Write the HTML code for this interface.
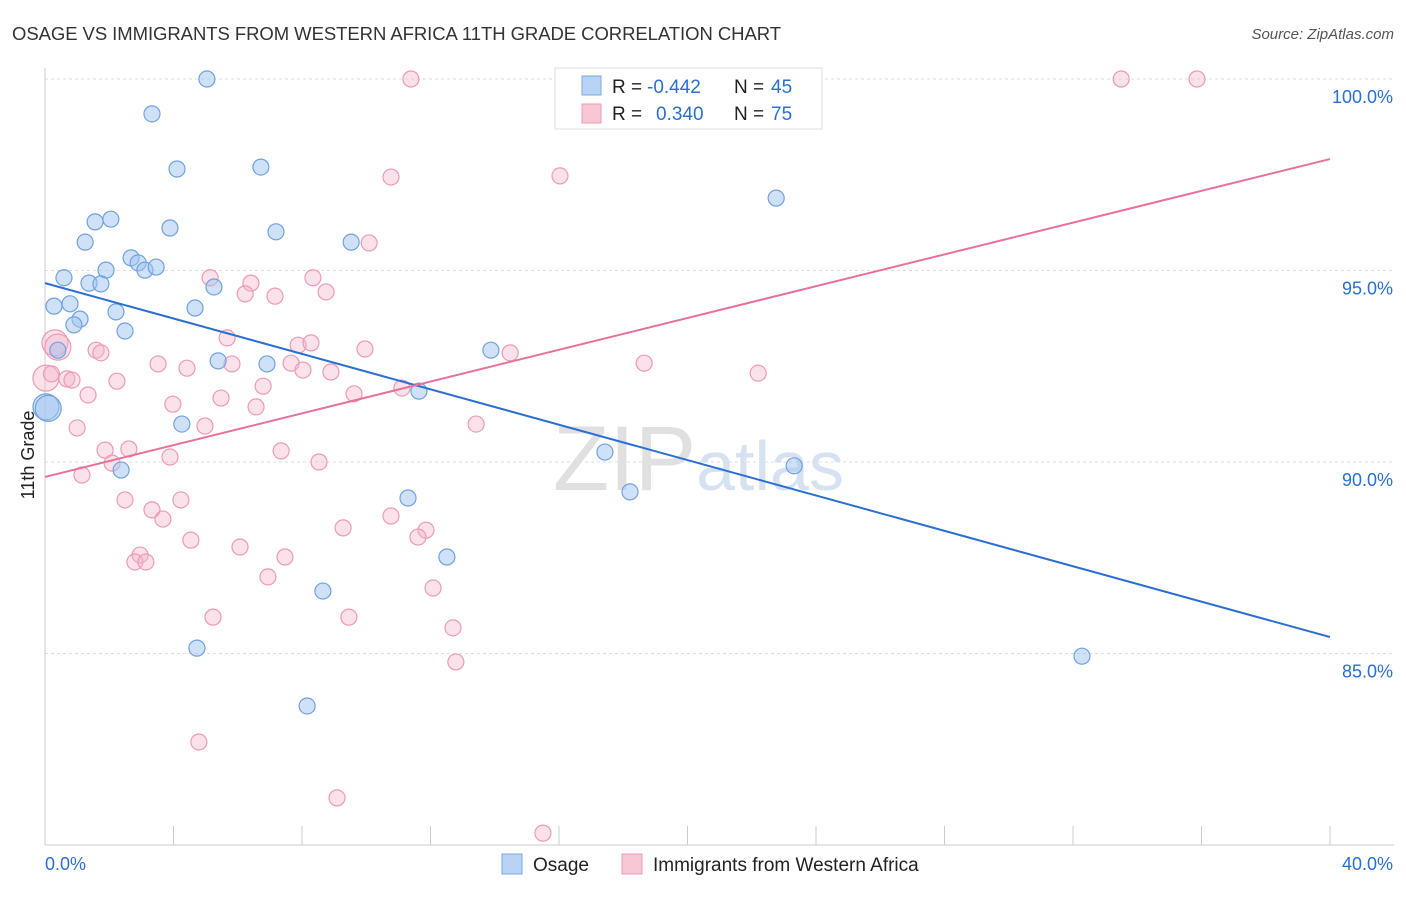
<!DOCTYPE html>
<html><head><meta charset="utf-8">
<style>
body{margin:0;background:#fff;font-family:"Liberation Sans",sans-serif;}
svg text{font-family:"Liberation Sans",sans-serif;}
</style></head>
<body>
<svg id="chart" width="1406" height="892" viewBox="0 0 1406 892" xmlns="http://www.w3.org/2000/svg">
<text x="12" y="40" font-size="18.5" fill="#333" textLength="769">OSAGE VS IMMIGRANTS FROM WESTERN AFRICA 11TH GRADE CORRELATION CHART</text>
<text x="1394" y="39" font-size="15" fill="#555" text-anchor="end" font-style="italic">Source: ZipAtlas.com</text>
<text x="553" y="490" font-size="92" fill="#e0e0e0" font-family="Liberation Serif">ZIP<tspan fill="#d6e2f2" font-family="Liberation Sans" font-size="70">atlas</tspan></text>
<g id="grid"></g>
<g id="axes"></g>
<g id="pink"></g>
<g id="blue"></g>
<g id="lines"></g>
<text transform="translate(34,455) rotate(-90)" font-size="18" fill="#222" text-anchor="middle">11th Grade</text>
<g>
<rect x="555" y="68" width="267" height="61" fill="#fff" stroke="#ddd"/>
<rect x="582" y="76" width="19" height="19" fill="#b9d3f5" stroke="#7aaae6"/>
<rect x="582" y="104" width="19" height="19" fill="#f8c7d6" stroke="#ee9ab5"/>
<text x="612" y="93" font-size="19" fill="#222">R =</text>
<text x="647" y="93" font-size="19" fill="#2a6fd4">-0.442</text>
<text x="734" y="93" font-size="19" fill="#222">N =</text>
<text x="771" y="93" font-size="19" fill="#2a6fd4">45</text>
<text x="612" y="120" font-size="19" fill="#222">R =</text>
<text x="656" y="120" font-size="19" fill="#2a6fd4">0.340</text>
<text x="734" y="120" font-size="19" fill="#222">N =</text>
<text x="771" y="120" font-size="19" fill="#2a6fd4">75</text>
</g>
<g>
<rect x="502" y="854" width="20" height="20" fill="#b9d3f5" stroke="#7aaae6"/>
<text x="533" y="871" font-size="19" fill="#222">Osage</text>
<rect x="622" y="854" width="20" height="20" fill="#f8c7d6" stroke="#ee9ab5"/>
<text x="653" y="871" font-size="19" fill="#222">Immigrants from Western Africa</text>
</g>
</svg>
<script>
const yTicks=[100,95,90,85];
const yTickLabels=["100.0%","95.0%","90.0%","85.0%"];
const xTicks=[0,4,8,12,16,20,24,28,32,36,40];
const xEndLabels=["0.0%","40.0%"];
const blueX=[5.04,3.33,4.11,6.72,1.56,2.05,1.25,3.89,7.19,9.53,2.68,2.90,3.11,3.46,0.59,1.90,1.37,1.74,5.26,0.28,0.78,4.67,2.21,1.09,0.90,2.49,0.40,5.39,6.91,13.88,11.64,0.03,4.26,2.37,17.43,18.21,23.32,11.30,12.51,8.65,4.73,8.16,22.76,32.28,0.1];
const blueY=[100,99.09,97.65,97.70,96.27,96.34,95.74,96.11,96.01,95.74,95.33,95.20,95.01,95.09,94.81,95.01,94.67,94.65,94.57,94.07,94.13,94.02,93.92,93.73,93.58,93.42,92.92,92.64,92.56,92.92,91.85,91.44,90.99,89.79,90.26,89.22,89.90,89.06,87.52,86.63,85.14,83.63,96.89,84.93,91.4];
const pinkX=[11.39,16.59,33.50,35.86,10.77,16.03,10.09,5.14,6.41,8.34,6.23,7.16,8.75,5.67,0.31,1.59,1.74,7.88,8.28,9.96,14.48,18.65,22.20,3.52,4.42,5.82,7.66,8.03,8.90,0.68,0.84,2.24,0.03,6.79,11.11,1.34,9.62,5.48,3.98,6.57,1.00,4.98,13.42,1.87,2.61,3.89,7.35,8.53,2.09,1.15,2.49,4.23,3.33,3.67,9.28,10.77,11.86,11.61,4.54,6.07,2.96,2.80,3.14,7.47,6.94,12.08,5.23,9.46,12.70,12.79,4.79,9.09,15.50,0.4,0.2];
const pinkY=[100,100,100,100,97.44,97.47,95.72,94.81,94.67,94.81,94.39,94.33,94.44,93.24,93.11,92.92,92.85,93.05,93.11,92.95,92.85,92.58,92.32,92.56,92.45,92.56,92.58,92.40,92.35,92.17,92.14,92.11,92.19,91.98,91.93,91.75,91.78,91.67,91.51,91.44,90.89,90.94,90.99,90.31,90.34,90.13,90.29,90.00,89.97,89.66,89.01,89.01,88.75,88.51,88.28,88.59,88.22,88.04,87.96,87.78,87.57,87.39,87.39,87.52,87.00,86.71,85.95,85.95,85.67,84.78,82.69,81.23,80.31,93.0,92.3];
const blueBigIdx=[31,44];
const pinkBigIdx=[14,32,73];
const blueTrend=[94.67,85.43];
const pinkTrend=[89.61,97.91];
const NS="http://www.w3.org/2000/svg";
const xs=v=>45+v*(1285/40);
const ys=v=>79+(100-v)*38.3;
function mk(tag,attrs,parent){const e=document.createElementNS(NS,tag);for(const k in attrs)e.setAttribute(k,attrs[k]);parent.appendChild(e);return e;}
const grid=document.getElementById('grid'),axes=document.getElementById('axes');
yTicks.forEach((t,i)=>{
 const l=mk('line',{x1:45,x2:1394,y1:ys(t),y2:ys(t),stroke:'#ddd','stroke-dasharray':'3,3'},grid);
 
 
 const tx=mk('text',{x:1393,y:ys(t)+24,'font-size':18,fill:'#2a6fd4','text-anchor':'end'},axes);
 tx.textContent=yTickLabels[i];
 
 
});
const al=mk('line',{x1:45,x2:45,y1:68,y2:845,stroke:'#ccc'},axes);


const bl=mk('line',{x1:45,x2:1394,y1:845,y2:845,stroke:'#ccc'},axes);


xTicks.forEach(t=>{const l=mk('line',{x1:xs(t),x2:xs(t),y1:826,y2:845,stroke:'#ccc'},axes);
 
 });
const t0=mk('text',{x:45,y:870,'font-size':18,fill:'#2a6fd4'},axes);t0.textContent=xEndLabels[0];


const t1=mk('text',{x:1393,y:870,'font-size':18,fill:'#2a6fd4','text-anchor':'end'},axes);t1.textContent=xEndLabels[1];


function pts(X,Y,big,g,fill,stroke,name){X.forEach((x,i)=>{
 const c=mk('circle',{cx:xs(x),cy:ys(Y[i]),r:big.includes(i)?13:8,fill:fill,stroke:stroke,'stroke-width':1.2},g);
 
 });}
pts(pinkX,pinkY,pinkBigIdx,document.getElementById('pink'),'rgba(246,180,202,0.4)','#ee9ab5','immigrants-point');
pts(blueX,blueY,blueBigIdx,document.getElementById('blue'),'rgba(160,196,240,0.5)','#6fa2e2','osage-point');
const lg=document.getElementById('lines');
const b=mk('line',{x1:xs(0),y1:ys(blueTrend[0]),x2:xs(40),y2:ys(blueTrend[1]),stroke:'#2a6fd4','stroke-width':2},lg);


const p=mk('line',{x1:xs(0),y1:ys(pinkTrend[0]),x2:xs(40),y2:ys(pinkTrend[1]),stroke:'#e8709a','stroke-width':2},lg);


</script>
</body></html>
